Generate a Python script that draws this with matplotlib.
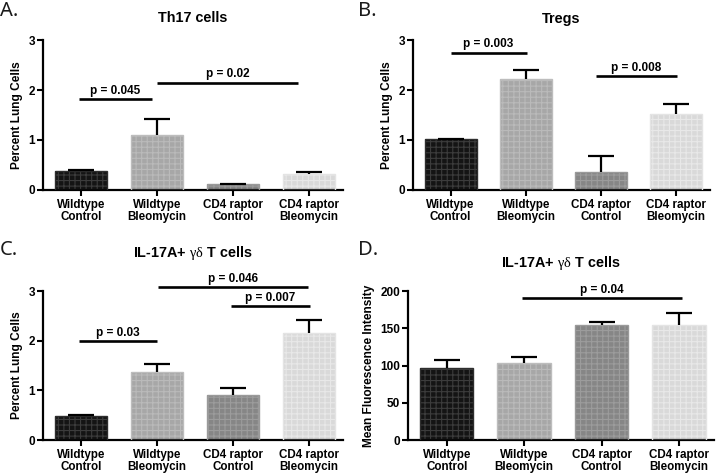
import matplotlib

matplotlib.use("Agg")
import matplotlib.pyplot as plt
import numpy as np

plt.rcParams["font.family"] = ["Liberation Sans", "DejaVu Sans"]
plt.rcParams["mathtext.fontset"] = "custom"
plt.rcParams["mathtext.rm"] = "Liberation Serif"
plt.rcParams["hatch.linewidth"] = 0.8

groups = ["Wildtype\nControl", "Wildtype\nBleomycin", "CD4 raptor\nControl", "CD4 raptor\nBleomycin"]

th17_mean = [0.37, 1.10, 0.11, 0.32]
th17_err = [0.02, 0.32, 0.0, 0.03]
treg_mean = [1.01, 2.21, 0.35, 1.51]
treg_err = [0.0, 0.19, 0.33, 0.21]
gd_mean = [0.48, 1.36, 0.91, 2.15]
gd_err = [0.02, 0.18, 0.14, 0.26]
mfi_mean = [96, 103, 154, 154]
mfi_err = [11, 8, 4.5, 16]

# (start, end, height, label)
th17_p = [(-0.03, 0.94, 1.81, "p = 0.045"), (1.0, 2.86, 2.15, "p = 0.02")]
treg_p = [(0.0, 1.01, 2.75, "p = 0.003"), (1.93, 3.01, 2.27, "p = 0.008")]
gd_p = [(-0.03, 1.0, 1.99, "p = 0.03"), (1.02, 2.99, 3.08, "p = 0.046"), (1.97, 3.02, 2.70, "p = 0.007")]
mfi_p = [(0.97, 3.04, 191, "p = 0.04")]

face = ["#141414", "#a7a7a7", "#868686", "#d9d9d9"]
grid = ["#3c3c3c", "#bababa", "#9c9c9c", "#e8e8e8"]
rim = ["#2e2e2e", "#bdbdbd", "#9a9a9a", "#e4e4e4"]

W, H = 716, 473


def panel(fig, box, mean, err, pvals, title, ylabel, ylim, yticks, letter, title_y, letter_xy):
    x0, x1, ytop, ybot = box
    ax = fig.add_axes([x0 / W, 1 - ybot / H, (x1 - x0) / W, (ybot - ytop) / H])
    x = np.arange(len(groups))
    ax.bar(x, mean, 0.69, color=face, edgecolor=grid, linewidth=0, hatch="+++", zorder=2)
    ax.bar(x, mean, 0.69, fill=False, edgecolor=rim, linewidth=1.0, zorder=3)
    lines = ax.errorbar(x, mean, yerr=[np.zeros(len(mean)), err], fmt="none", ecolor="black",
                        elinewidth=1.6, capsize=9.4, capthick=1.6, zorder=4)
    for cap in lines[1]:
        if np.allclose(cap.get_ydata(), mean):
            cap.set_visible(False)
    for a, b, h, lab in pvals:
        ax.plot([a, b], [h, h], color="black", lw=1.9, clip_on=False, solid_capstyle="butt")
        ax.annotate(lab, xy=((a + b) / 2, h), xytext=(0, 1.5), textcoords="offset points",
                    ha="center", va="bottom", fontsize=8.5, fontweight="bold", annotation_clip=False)
    ax.set_xlim(-0.5, 3.45)
    ax.set_ylim(*ylim)
    ax.set_yticks(yticks)
    ax.set_xticks(x)
    ax.set_xticklabels(groups, fontsize=8.4, fontweight="bold", linespacing=1.0)
    for t in ax.get_yticklabels():
        t.set_fontweight("bold")
        t.set_fontsize(8.5)
    ax.tick_params(axis="y", length=4, width=1.5, pad=1.5)
    ax.tick_params(axis="x", length=4.5, width=1.5, pad=2)
    for s in ["top", "right"]:
        ax.spines[s].set_visible(False)
    for s in ["left", "bottom"]:
        ax.spines[s].set_linewidth(1.6)
    ax.set_ylabel(ylabel, fontsize=8.6, fontweight="bold", labelpad=4)
    fig.text((x0 + x1) / 2 / W, 1 - title_y / H, title, ha="center", va="center",
             fontsize=10.4, fontweight="bold")
    fig.text(letter_xy[0] / W, 1 - letter_xy[1] / H, letter, ha="left", va="center",
             fontsize=14.5, family="Noto Sans", color="#1a1a1a")
    return ax


fig = plt.figure(figsize=(7.16, 4.73), dpi=100)
fig.patch.set_facecolor("white")

panel(fig, (43, 343, 40, 190), th17_mean, th17_err, th17_p, "Th17 cells",
      "Percent Lung Cells", (0, 3), [0, 1, 2, 3], "A.", 18, (0, 11))
panel(fig, (413, 710, 40, 190), treg_mean, treg_err, treg_p, "Tregs",
      "Percent Lung Cells", (0, 3), [0, 1, 2, 3], "B.", 19, (358, 11))
panel(fig, (43, 343, 291, 440), gd_mean, gd_err, gd_p, r"IL-17A+ $\mathrm{\gamma\delta}$ T cells",
      "Percent Lung Cells", (0, 3), [0, 1, 2, 3], "C.", 253, (0, 250))
panel(fig, (408, 714, 291, 440), mfi_mean, mfi_err, mfi_p, r"IL-17A+ $\mathrm{\gamma\delta}$ T cells",
      "Mean Fluorescence Intensity", (0, 200), [0, 50, 100, 150, 200], "D.", 263, (358, 250))

fig.savefig("out.png", dpi=100)
plt.close(fig)
